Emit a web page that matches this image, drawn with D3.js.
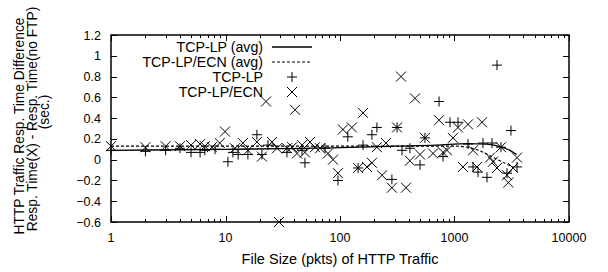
<!DOCTYPE html>
<html><head><meta charset="utf-8">
<script src="https://cdn.jsdelivr.net/npm/d3@7"></script>
<style>body{margin:0;background:#fff}svg{display:block;font-family:"Liberation Sans",Arial,sans-serif}</style>
</head><body><svg id="c" width="608" height="272"></svg>
<script>
const xTicks = [1, 10, 100, 1000, 10000];
const yTicks = [-0.6, -0.4, -0.2, 0, 0.2, 0.4, 0.6, 0.8, 1, 1.2];
const legendLabels = ["TCP-LP (avg)", "TCP-LP/ECN (avg)", "TCP-LP", "TCP-LP/ECN"];

const lpX = [1,2,3,4,5,6,6.6,8.1,10.5,11.6,12.9,15.7,18.8,20.8,23.5,34.4,46.6,49.4,74,96,117,144,159,190,210,284,315,348,408,500,552,733,794,914,1073,1312,1452,1604,1774,1922,2127,2350,2547,2875,3112,3515];
const lpY = [0.09,0.08,0.09,0.11,0.07,0.07,0.09,0.10,-0.02,0.07,0.05,0.05,0.24,0.05,0.14,0.07,0.09,-0.03,0.11,-0.2,0.22,-0.08,0.14,0.24,0.31,-0.19,0.31,0.09,0.11,-0.05,0.21,0.56,0.03,0.36,0.36,0.15,-0.07,-0.12,0.16,-0.17,0.16,0.91,0.12,-0.13,0.28,-0.07];

const ecnX = [1,2,3,4,5,6,6.6,7.6,8.9,9.9,12.1,14.2,15.7,18.8,20.8,22.6,25.5,28.2,29.3,34.4,38.1,40.5,42.1,46.6,49.4,54.7,60.5,66.9,78.5,86.9,96,106,127,144,159,172,190,210,233,252,284,315,341,377,408,452,500,552,649,733,794,860,970,1073,1186,1312,1452,1573,1738,2042,2168,2350,2547,2875,2950,3243,3515];
const ecnY = [0.13,0.12,0.13,0.13,0.14,0.15,0.13,0.12,0.16,0.27,0.11,0.16,0.09,0.17,0.03,0.56,0.17,0.11,-0.6,0.11,0.12,0.48,0.06,0.14,0.07,0.17,0.12,0.11,0.06,0.0,-0.13,0.29,0.31,-0.08,0.45,-0.07,-0.03,0.12,-0.15,0.16,-0.27,0.31,0.8,-0.27,-0.01,0.59,0.05,0.21,0.06,0.38,0.07,0.09,0.21,0.31,-0.07,0.34,0.09,-0.07,0.36,0.02,-0.02,-0.08,0.12,-0.15,-0.22,-0.08,0.02];

const lpAvgX = [1,10,100,300,700,1300,1900,2500,2900,3500];
const lpAvgY = [0.09,0.10,0.115,0.13,0.14,0.155,0.15,0.125,0.10,0.05];
const ecnAvgX = [1,10,100,500,1000,1300,1700,2100,2600,3200];
const ecnAvgY = [0.13,0.13,0.13,0.13,0.13,0.12,0.08,0.03,-0.02,-0.07];

const svg = d3.select("#c");
const L = 111, R = 569, T = 35, B = 222;
const x = d3.scaleLog().domain([1, 10000]).range([L, R]);
const y = d3.scaleLinear().domain([-0.6, 1.2]).range([B, T]);

// ticks (inward, mirrored)
const g = svg.append("g").attr("stroke", "#000").attr("stroke-width", 1);
const minor = [];
for (let d = 1; d < 10000; d *= 10) for (let k = 2; k <= 9; k++) minor.push(d * k);
minor.forEach(v => {
  const px = Math.round(x(v)) + 0.5;
  g.append("line").attr("x1", px).attr("x2", px).attr("y1", B).attr("y2", B - 3);
  g.append("line").attr("x1", px).attr("x2", px).attr("y1", T).attr("y2", T + 3);
});
xTicks.forEach(v => {
  const px = Math.round(x(v)) + 0.5;
  g.append("line").attr("x1", px).attr("x2", px).attr("y1", B).attr("y2", B - 6);
  g.append("line").attr("x1", px).attr("x2", px).attr("y1", T).attr("y2", T + 6);
});
yTicks.forEach(v => {
  const py = Math.round(y(v)) + 0.5;
  g.append("line").attr("x1", L).attr("x2", L + 6).attr("y1", py).attr("y2", py);
  g.append("line").attr("x1", R).attr("x2", R - 6).attr("y1", py).attr("y2", py);
});

// tick labels
const tl = svg.append("g").attr("font-size", 12.5).attr("fill", "#000");
xTicks.forEach(v => tl.append("text").attr("x", x(v)).attr("y", 242).attr("text-anchor", "middle").text(d3.format("d")(v)));
yTicks.forEach(v => tl.append("text").attr("x", 101).attr("y", y(v) + 4.5).attr("text-anchor", "end").text(d3.format("")(+v.toFixed(1))));

// axis titles
svg.append("text").attr("x", 340).attr("y", 264).attr("text-anchor", "middle").attr("font-size", 14.5).text("File Size (pkts) of HTTP Traffic");
const yt = [["HTTP Traffic Resp. Time Difference", 24, 126], ["Resp. Time(X) - Resp. Time(no FTP)", 37, 119], ["(sec.)", 49, 112]];
yt.forEach(([t, bx, cy]) => svg.append("text").attr("transform", `translate(${bx},${cy}) rotate(-90)`).attr("text-anchor", "middle").attr("font-size", 13.8).text(t));

// curves
const line = d3.line().x(d => x(d[0])).y(d => y(d[1])).curve(d3.curveMonotoneX);
svg.append("path").attr("d", line(lpAvgX.map((v, i) => [v, lpAvgY[i]]))).attr("fill", "none").attr("stroke", "#000").attr("stroke-width", 1.3);
svg.append("path").attr("d", line(ecnAvgX.map((v, i) => [v, ecnAvgY[i]]))).attr("fill", "none").attr("stroke", "#000").attr("stroke-width", 1.1).attr("stroke-dasharray", "3,2");

// markers
const plus = (px, py, s) => `M${px - s},${py}H${px + s}M${px},${py - s}V${py + s}`;
const cross = (px, py, s) => `M${px - s},${py - s}L${px + s},${py + s}M${px - s},${py + s}L${px + s},${py - s}`;
const mk = svg.append("g").attr("stroke", "#000").attr("stroke-width", 1).attr("fill", "none");
lpX.forEach((v, i) => mk.append("path").attr("d", plus(x(v), y(lpY[i]), 5)));
ecnX.forEach((v, i) => mk.append("path").attr("d", cross(x(v), y(ecnY[i]), 5)));

// legend
const ly = [47, 62, 77, 92];
const lg = svg.append("g").attr("font-size", 14.2);
legendLabels.forEach((t, i) => lg.append("text").attr("x", 263).attr("y", ly[i] + 5).attr("text-anchor", "end").text(t));
lg.append("line").attr("x1", 272).attr("x2", 312).attr("y1", ly[0]).attr("y2", ly[0]).attr("stroke", "#000").attr("stroke-width", 1.3);
lg.append("line").attr("x1", 272).attr("x2", 312).attr("y1", ly[1]).attr("y2", ly[1]).attr("stroke", "#000").attr("stroke-width", 1.1).attr("stroke-dasharray", "3,2");
lg.append("path").attr("d", plus(292, ly[2], 5)).attr("stroke", "#000");
lg.append("path").attr("d", cross(292, ly[3], 5)).attr("stroke", "#000");

// border
svg.append("rect").attr("x", L).attr("y", T).attr("width", R - L).attr("height", B - T).attr("fill", "none").attr("stroke", "#000").attr("stroke-width", 1.5);
</script></body></html>
